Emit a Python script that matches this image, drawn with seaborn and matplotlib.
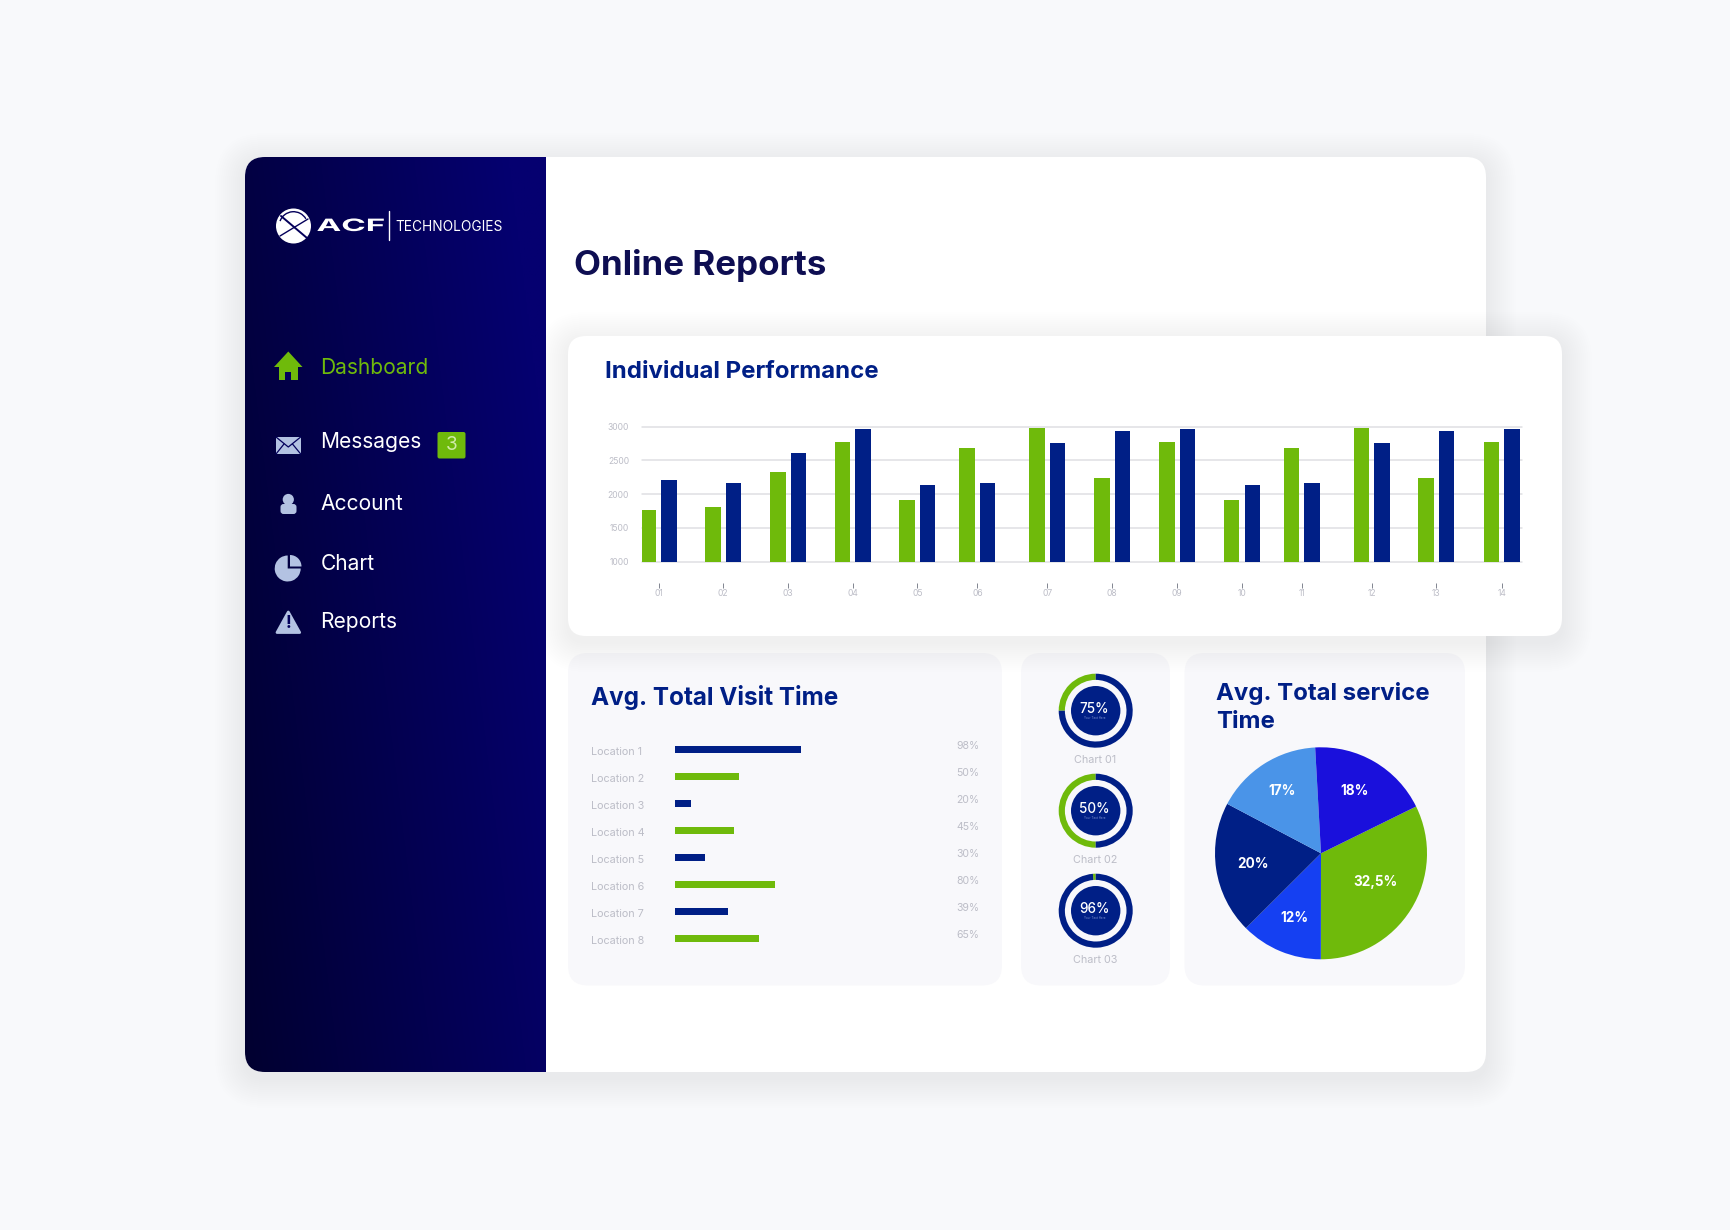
import numpy as np
import pandas as pd
import seaborn as sns
import matplotlib
matplotlib.use("Agg")
import matplotlib.pyplot as plt
import matplotlib.patheffects as pe
from matplotlib.patches import FancyBboxPatch, Circle, Wedge, Polygon, Rectangle
from matplotlib.transforms import Affine2D

# Data
groups = ["01", "02", "03", "04", "05", "06", "07", "08", "09", "10", "11", "12", "13", "14"]
green_values = [1765, 1815, 2328, 2773, 1914, 2684, 2980, 2240, 2773, 1914, 2684, 2980, 2240, 2773]
blue_values = [2205, 2160, 2610, 2960, 2140, 2160, 2758, 2931, 2960, 2140, 2160, 2758, 2931, 2960]
y_ticks = [1000, 1500, 2000, 2500, 3000]

locations = ["Location 1", "Location 2", "Location 3", "Location 4",
             "Location 5", "Location 6", "Location 7", "Location 8"]
visit_bars = [98, 50, 12, 46, 23, 78, 41, 65]
visit_labels = ["98%", "50%", "20%", "45%", "30%", "80%", "39%", "65%"]

donut_names = ["Chart 01", "Chart 02", "Chart 03"]
donut_labels = ["75%", "50%", "96%"]
donut_green = [25, 50, 1.2]

# slice sizes as drawn, the printed labels do not quite add up
pie_values = [32.3, 12.5, 20.2, 16.4, 18.6]
pie_labels = ["32,5%", "12%", "20%", "17%", "18%"]

menu_items = ["Dashboard", "Messages", "Account", "Chart", "Reports"]

# Colours
GREEN = "#6fba0b"
NAVY = "#001f86"
TITLE_DARK = "#0e0e52"
GREY_TEXT = "#bcbdc7"
ICON = "#b3c2e2"
PIE_COLORS = [GREEN, "#1540f2", NAVY, "#4a94e8", "#1a10dc"]

W, H = 1731, 1230
PT = 72 / 100  # points per pixel at dpi 100

sns.set_theme(style="white")
plt.rcParams["font.family"] = ["Inter", "DejaVu Sans"]
plt.rcParams["axes.facecolor"] = "none"

fig = plt.figure(figsize=(W / 100, H / 100), dpi=100, facecolor="#f8f9fb")


def px_axes(left, top, right, bottom, zorder=2):
    return fig.add_axes([left / W, 1 - bottom / H, (right - left) / W, (bottom - top) / H], zorder=zorder)


bg = px_axes(0, 0, W, H, zorder=0)
fg = px_axes(0, 0, W, H, zorder=10)
for a in (bg, fg):
    a.set_xlim(0, W)
    a.set_ylim(H, 0)
    a.axis("off")


def card(x0, y0, x1, y1, r, color, zorder=1):
    p = FancyBboxPatch((x0, y0), x1 - x0, y1 - y0, boxstyle=f"round,pad=0,rounding_size={r}",
                       fc=color, ec="none", zorder=zorder)
    bg.add_patch(p)
    return p


def shadow(x0, y0, x1, y1, r, spread, alpha, dy, zorder):
    for i in range(spread, 0, -2):
        p = card(x0 - i, y0 - i + dy, x1 + i, y1 + i + dy, r + i, "#70707a", zorder)
        p.set_alpha(alpha)


def label(x, y, s, size, color, weight="normal", ha="left", **kw):
    return fg.text(x, y, s, fontsize=size * PT, color=color, fontweight=weight, ha=ha, va="center", **kw)


class StretchX(pe.AbstractPathEffect):
    def __init__(self, sx):
        super().__init__()
        self.sx = sx

    def draw_path(self, renderer, gc, tpath, affine, rgbFace=None):
        renderer.draw_path(gc, tpath, Affine2D().scale(self.sx, 1) + affine, rgbFace)


# Main window and sidebar
shadow(245, 157, 1486, 1072, 20, 30, 0.0028, 6, 1)
main_card = card(245, 157, 1486, 1072, 20, "white", 2)

xx, yy = np.meshgrid(np.linspace(0, 1, 200), np.linspace(0, 1, 300))
t = np.clip(0.8 * xx + 0.3 * (1 - yy), 0, 1)[..., None]
grad = (1 - t) * np.array([1, 0, 48]) / 255 + t * np.array([5, 0, 112]) / 255
side = bg.imshow(grad, extent=(245, 546, 1072, 157), aspect="auto", zorder=3, origin="upper")
side.set_clip_path(FancyBboxPatch((245, 157), 600, 915, boxstyle="round,pad=0,rounding_size=20",
                                  transform=bg.transData))
bg.set_xlim(0, W)
bg.set_ylim(H, 0)

# Cards
shadow(568, 336, 1562, 636, 18, 30, 0.0035, 6, 4)
card(568, 336, 1562, 636, 18, "white", 5)
card(568, 653, 1002, 985.5, 20, "#f8f8fb", 3)
card(1021, 653, 1170, 985.5, 20, "#f8f8fb", 3)
card(1184.5, 653, 1465, 985.5, 20, "#f8f8fb", 3)

# Titles
label(574, 266, "Online Reports", 35, TITLE_DARK, "bold")
label(605, 372, "Individual Performance", 24, NAVY, "bold")
label(591, 697, "Avg. Total Visit Time", 24.3, NAVY, "bold")
label(1216, 693.5, "Avg. Total service", 24, NAVY, "bold")
label(1216, 722.5, "Time", 24, NAVY, "bold")

# Logo
fg.add_patch(Circle((293.5, 226), 17.5, fc="white", ec="none"))
fg.add_patch(Wedge((293.5, 226), 15, 200, 330, width=1.4, fc="#04005a", ec="none"))
fg.plot([281, 307], [216, 238], color="#04005a", lw=1.4)
fg.plot([280, 308], [236, 219], color="#04005a", lw=1.0)
label(316.5, 226.5, "ACF", 17, "white", "bold", path_effects=[StretchX(1.95)])
fg.plot([389, 389], [211, 240], color="white", lw=1)
label(395.5, 227, "TECHNOLOGIES", 13.7, "white")

# Sidebar menu
menu_y = [368.5, 442.5, 503.5, 564.5, 621.5]
for name, y in zip(menu_items, menu_y):
    label(320.5, y, name, 21, GREEN if name == "Dashboard" else "white")

fg.add_patch(Polygon([(288.3, 351.5), (302.5, 367), (274, 367)], fc=GREEN, ec="none"))
fg.add_patch(Rectangle((279, 365), 19.5, 15, fc=GREEN, ec="none"))
fg.add_patch(Rectangle((285.5, 372), 5.5, 8, fc="#03005c", ec="none"))

fg.add_patch(Rectangle((276, 436.5), 24.7, 17.5, fc=ICON, ec="none"))
fg.plot([276, 288.3, 300.7], [437, 447, 437], color="#03005c", lw=0.9)
fg.plot([276, 284], [454, 444], color="#03005c", lw=0.9)
fg.plot([300.7, 292.5], [454, 444], color="#03005c", lw=0.9)

fg.add_patch(Circle((288.3, 499.5), 5.6, fc=ICON, ec="none"))
fg.add_patch(FancyBboxPatch((280.5, 504), 16, 10, boxstyle="round,pad=0,rounding_size=3", fc=ICON, ec="none"))

fg.add_patch(Wedge((287.7, 568.5), 13, 0, 270, fc=ICON, ec="none"))
fg.add_patch(Wedge((290, 566.5), 11.5, 0, 90, fc=ICON, ec="none", transform=Affine2D().scale(1, -1).translate(0, 1133) + fg.transData))

fg.add_patch(Polygon([(288.3, 612), (299.7, 632.5), (277, 632.5)], fc=ICON, ec=ICON, lw=2, joinstyle="round"))
label(288.3, 623.5, "!", 17, "#03005c", "bold", ha="center")

fg.add_patch(FancyBboxPatch((437.5, 432), 28, 26.5, boxstyle="round,pad=0,rounding_size=2", fc=GREEN, ec="none"))
label(451.5, 445, "3", 19, "#cfeaa8", ha="center")

# Individual Performance bars
group_x = [658.8, 723.2, 788.3, 852.7, 917.4, 977.4, 1047.2, 1112.3, 1177.3, 1242, 1301.7, 1371.8, 1436.2, 1501.9]
perf = pd.DataFrame({
    "pos": group_x * 2,
    "value": green_values + blue_values,
    "series": ["green"] * len(groups) + ["blue"] * len(groups),
})
ax = px_axes(642, 426.7, 1522, 561.7, zorder=6)
sns.barplot(data=perf, x="pos", y="value", hue="series", native_scale=True, palette=[GREEN, NAVY],
            hue_order=["green", "blue"], width=0.69, gap=0.25, saturation=1, errorbar=None,
            legend=False, linewidth=0, ax=ax, zorder=3)
ax.set_xlim(642, 1522)
ax.set_ylim(1000, 3000)
ax.set_xlabel("")
ax.set_ylabel("")
ax.set_yticks(y_ticks, [str(v) for v in y_ticks])
ax.set_xticks(group_x, groups)
ax.yaxis.grid(True, color="#dedfe3", lw=1.5 * PT, clip_on=False)
ax.set_axisbelow(True)
sns.despine(ax=ax, left=True, top=True, right=True, bottom=True)
ax.spines["bottom"].set_position(("outward", 21 * PT))
ax.tick_params(axis="x", length=5 * PT, width=0.8 * PT, color="#666a78", bottom=True, pad=1,
               labelsize=8.5 * PT, labelcolor=GREY_TEXT)
ax.tick_params(axis="y", length=0, pad=13 * PT, labelsize=8.5 * PT, labelcolor=GREY_TEXT)

# Avg. Total Visit Time bars
visit = pd.DataFrame({"loc": locations, "value": visit_bars})
ax2 = px_axes(675.1, 736.2, 803.5, 952.5, zorder=6)
sns.barplot(data=visit, y="loc", x="value", hue="loc", palette=[NAVY, GREEN] * 4, width=0.26,
            saturation=1, legend=False, linewidth=0, ax=ax2)
ax2.set_xlim(0, 100)
ax2.axis("off")
for i, (name, lab) in enumerate(zip(locations, visit_labels)):
    y = 749.7 + 27 * i
    label(591.5, y + 2.7, name, 10.8, GREY_TEXT)
    label(979.5, y - 3.7, lab, 10.5, GREY_TEXT, ha="right")

# Donuts
for i, (name, lab, g) in enumerate(zip(donut_names, donut_labels, donut_green)):
    cy = 710.7 + 100 * i
    d = px_axes(1095.7 - 37.5, cy - 37.5, 1095.7 + 37.5, cy + 37.5, zorder=6)
    d.pie([g, 100 - g], colors=[GREEN, NAVY], startangle=90, radius=37 / 37.5,
          wedgeprops={"width": 6.2 / 37.5, "linewidth": 0})
    d.add_patch(Circle((0, 0), 24.7 / 37.5, fc=NAVY, ec="none"))
    d.set_xlim(-1, 1)
    d.set_ylim(-1, 1)
    label(1094, cy - 2, lab, 13.5, "white", "medium", ha="center")
    label(1095, cy + 7.5, "Your Text Here", 3, "#7f93d0", ha="center")
    label(1095, cy + 49.5, name, 10.8, GREY_TEXT, ha="center")

# Avg. Total service Time pie
pie_ax = px_axes(1321 - 107, 853.3 - 107, 1321 + 107, 853.3 + 107, zorder=6)
pie_ax.pie(pie_values, colors=PIE_COLORS, startangle=26.2, counterclock=False, radius=106 / 107,
           wedgeprops={"linewidth": 0})
pie_ax.set_xlim(-1, 1)
pie_ax.set_ylim(-1, 1)
pie_label_xy = [(1376, 882.3), (1294, 918.3), (1252.7, 864), (1282, 790.7), (1354.7, 791)]
for (x, y), lab in zip(pie_label_xy, pie_labels):
    label(x, y, lab, 13.5, "white", "bold", ha="center")

fig.savefig("out.png", dpi=100, facecolor=fig.get_facecolor())
